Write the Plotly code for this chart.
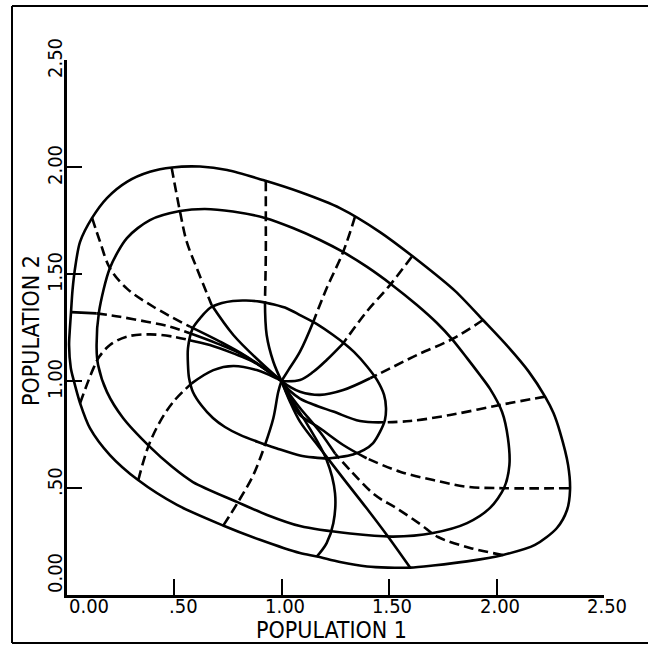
import plotly.graph_objects as go

# ---------------- data (data units) ----------------
tick_values = [0.0, 0.5, 1.0, 1.5, 2.0, 2.5]
tick_labels = ["0.00", ".50", "1.00", "1.50", "2.00", "2.50"]
x_title = "POPULATION 1"
y_title = "POPULATION 2"

# solid closed curves (outer, middle, inner)
outer_x = [0.020, 0.012, 0.016, 0.021, 0.028, 0.042, 0.063, 0.119, 0.188, 0.281, 0.388, 0.491, 0.621,
           0.747, 0.914, 1.086, 1.272, 1.458, 1.644, 1.807, 1.937, 2.049, 2.149, 2.226, 2.265, 2.295,
           2.333, 2.342, 2.328, 2.281, 2.179, 2.030, 1.863, 1.705, 1.598, 1.495, 1.398, 1.272, 1.165,
           1.086, 0.900, 0.728, 0.514, 0.333, 0.202, 0.109, 0.063, 0.033, 0.020]
outer_y = [1.061, 1.168, 1.248, 1.322, 1.425, 1.542, 1.650, 1.762, 1.855, 1.931, 1.978, 1.998, 2.002,
           1.986, 1.939, 1.883, 1.808, 1.696, 1.556, 1.421, 1.285, 1.165, 1.045, 0.927, 0.850, 0.762,
           0.607, 0.491, 0.397, 0.313, 0.234, 0.187, 0.157, 0.138, 0.128, 0.128, 0.133, 0.154, 0.180,
           0.196, 0.258, 0.325, 0.421, 0.537, 0.654, 0.780, 0.897, 1.005, 1.061]

middle_x = [0.140, 0.151, 0.202, 0.281, 0.388, 0.528, 0.644, 0.774, 0.923, 1.053, 1.179, 1.286, 1.398,
            1.514, 1.630, 1.723, 1.793, 1.863, 1.923, 1.970, 2.026, 2.053, 2.060, 2.035, 1.970, 1.863,
            1.705, 1.519, 1.319, 1.086, 0.933, 0.793, 0.588, 0.490, 0.388, 0.263, 0.188, 0.147, 0.140]
middle_y = [1.154, 1.322, 1.528, 1.668, 1.752, 1.794, 1.804, 1.792, 1.762, 1.715, 1.659, 1.603, 1.533,
            1.449, 1.355, 1.271, 1.196, 1.107, 1.028, 0.963, 0.855, 0.734, 0.607, 0.500, 0.407, 0.336,
            0.290, 0.273, 0.287, 0.322, 0.374, 0.435, 0.528, 0.600, 0.692, 0.827, 0.949, 1.075, 1.154]

inner_x = [0.565, 0.588, 0.626, 0.667, 0.723, 0.774, 0.835, 0.900, 0.965, 1.026, 1.086, 1.165, 1.240,
           1.295, 1.337, 1.398, 1.444, 1.477, 1.486, 1.481, 1.458, 1.426, 1.384, 1.333, 1.272, 1.212,
           1.147, 1.086, 0.979, 0.891, 0.807, 0.737, 0.681, 0.630, 0.588, 0.570, 0.565, 0.565]
inner_y = [1.154, 1.248, 1.299, 1.341, 1.364, 1.374, 1.376, 1.371, 1.357, 1.339, 1.308, 1.266, 1.215,
           1.173, 1.136, 1.068, 1.005, 0.935, 0.874, 0.818, 0.762, 0.710, 0.678, 0.657, 0.645, 0.638,
           0.643, 0.652, 0.685, 0.715, 0.748, 0.785, 0.827, 0.883, 0.949, 1.014, 1.075, 1.154]

# trajectories, from the outer curve into the point (1, 1)
t01_x = [0.489, 0.528, 0.559, 0.606, 0.675, 0.776, 0.900, 1.0]
t01_y = [1.997, 1.791, 1.651, 1.527, 1.355, 1.215, 1.090, 1.0]
t02_x = [0.927, 0.927, 0.927, 0.923, 0.931, 0.962, 1.0]
t02_y = [1.934, 1.760, 1.589, 1.371, 1.215, 1.090, 1.0]
t03_x = [1.342, 1.287, 1.210, 1.148, 1.086, 1.032, 1.0]
t03_y = [1.768, 1.604, 1.433, 1.277, 1.137, 1.051, 1.0]
t04_x = [1.606, 1.505, 1.396, 1.287, 1.210, 1.148, 1.086, 1.0]
t04_y = [1.581, 1.449, 1.324, 1.176, 1.098, 1.043, 1.005, 1.0]
t05_x = [1.937, 1.792, 1.629, 1.505, 1.412, 1.287, 1.179, 1.086, 1.040, 1.0]
t05_y = [1.285, 1.195, 1.121, 1.059, 1.013, 0.958, 0.935, 0.950, 0.972, 1.0]
t06_x = [2.226, 2.016, 1.784, 1.598, 1.473, 1.365, 1.241, 1.148, 1.086, 1.040, 1.0]
t06_y = [0.927, 0.888, 0.841, 0.813, 0.807, 0.813, 0.857, 0.890, 0.918, 0.953, 1.0]
t07_x = [2.339, 2.032, 1.861, 1.706, 1.551, 1.396, 1.287, 1.179, 1.086, 1.040, 1.0]
t07_y = [0.499, 0.499, 0.506, 0.537, 0.576, 0.639, 0.701, 0.779, 0.841, 0.911, 1.0]
t08_x = [2.030, 1.877, 1.728, 1.644, 1.536, 1.435, 1.323, 1.250, 1.179, 1.086, 1.040, 1.0]
t08_y = [0.187, 0.220, 0.271, 0.332, 0.405, 0.467, 0.579, 0.660, 0.762, 0.874, 0.935, 1.0]
t09_x = [1.598, 1.490, 1.396, 1.287, 1.179, 1.086, 1.040, 1.0]
t09_y = [0.128, 0.280, 0.405, 0.545, 0.686, 0.810, 0.902, 1.0]
t10_x = [1.164, 1.210, 1.241, 1.249, 1.210, 1.117, 1.049, 1.0]
t10_y = [0.179, 0.242, 0.335, 0.475, 0.631, 0.802, 0.909, 1.0]
t11_x = [0.729, 0.799, 0.869, 0.923, 0.962, 0.985, 1.0]
t11_y = [0.324, 0.436, 0.561, 0.701, 0.826, 0.950, 1.0]
t12_x = [0.334, 0.380, 0.435, 0.497, 0.582, 0.683, 0.776, 0.885, 0.978, 1.0]
t12_y = [0.537, 0.693, 0.810, 0.903, 0.989, 1.051, 1.070, 1.051, 1.012, 1.0]
t13_x = [0.063, 0.125, 0.153, 0.202, 0.280, 0.388, 0.497, 0.567, 0.667, 0.776, 0.869, 1.0]
t13_y = [0.896, 1.059, 1.114, 1.168, 1.207, 1.218, 1.207, 1.192, 1.168, 1.129, 1.090, 1.0]
t14_x = [0.021, 0.140, 0.249, 0.373, 0.481, 0.574, 0.699, 0.822, 1.0]
t14_y = [1.322, 1.316, 1.300, 1.277, 1.254, 1.223, 1.176, 1.121, 1.0]
t15_x = [0.119, 0.156, 0.202, 0.280, 0.404, 0.574, 0.714, 0.838, 1.0]
t15_y = [1.762, 1.651, 1.527, 1.433, 1.347, 1.254, 1.184, 1.114, 1.0]

# ---------------- styling ----------------
# for each trajectory: list of (start_index, end_index, dashed?) segments
segments = {
    "01": [(0, 4, True), (4, 7, False)],
    "02": [(0, 3, True), (3, 6, False)],
    "03": [(0, 3, True), (3, 6, False)],
    "04": [(0, 3, True), (3, 7, False)],
    "05": [(0, 4, True), (4, 9, False)],
    "06": [(0, 4, True), (4, 10, False)],
    "07": [(0, 5, True), (5, 10, False)],
    "08": [(0, 7, True), (7, 11, False)],
    "09": [(0, 7, False)],
    "10": [(0, 7, False)],
    "11": [(0, 3, True), (3, 6, False)],
    "12": [(0, 4, True), (4, 9, False)],
    "13": [(0, 7, True), (7, 11, False)],
    "14": [(0, 1, False), (1, 5, True), (5, 8, False)],
    "15": [(0, 5, True), (5, 8, False)],
}
trajectories = {
    "01": (t01_x, t01_y), "02": (t02_x, t02_y), "03": (t03_x, t03_y), "04": (t04_x, t04_y),
    "05": (t05_x, t05_y), "06": (t06_x, t06_y), "07": (t07_x, t07_y), "08": (t08_x, t08_y),
    "09": (t09_x, t09_y), "10": (t10_x, t10_y), "11": (t11_x, t11_y), "12": (t12_x, t12_y),
    "13": (t13_x, t13_y), "14": (t14_x, t14_y), "15": (t15_x, t15_y),
}

W = 648
LW = 2.6
DASH = "10px,5px"
FONT = "DejaVu Sans Condensed, DejaVu Sans, sans-serif"

fig = go.Figure()

for cx, cy in [(outer_x, outer_y), (middle_x, middle_y), (inner_x, inner_y)]:
    fig.add_trace(go.Scatter(x=cx, y=cy, mode="lines", cliponaxis=False,
                             line=dict(color="black", width=LW, shape="spline", smoothing=0.8),
                             hoverinfo="skip", showlegend=False))

for key, (tx, ty) in trajectories.items():
    for a, b, dashed in segments[key]:
        fig.add_trace(go.Scatter(
            x=tx[a:b + 1], y=ty[a:b + 1], mode="lines", cliponaxis=False,
            line=dict(color="black", width=LW, shape="spline", smoothing=1.0,
                      dash=DASH if dashed else "solid"),
            hoverinfo="skip", showlegend=False))

# axis placement in pixels
x0_px, x1_px = 66.5, 604.0
y0_px, y1_px = 595.0, 60.0

axis_common = dict(range=[0, 2.5], tickvals=tick_values, showticklabels=False,
                   ticks="inside", ticklen=16, tickwidth=2.2, tickcolor="black",
                   showline=True, linecolor="black", linewidth=2.6,
                   showgrid=False, zeroline=False, mirror=False, fixedrange=True)
fig.update_xaxes(domain=[x0_px / W, x1_px / W], **axis_common)
fig.update_yaxes(domain=[1 - y0_px / W, 1 - y1_px / W], **axis_common)

ann = []
for v, lab in zip(tick_values, tick_labels):
    xs = 3
    if v == 0.0:
        xs = 22
    elif lab.startswith("."):
        xs = 9
    ann.append(dict(x=v, y=1 - 606 / W, xref="x", yref="paper", text=lab, showarrow=False,
                    xshift=xs, font=dict(family=FONT, size=20, color="black"),
                    xanchor="center", yanchor="middle"))
for v, lab in zip(tick_values, tick_labels):
    ys = 2
    if v == 0.0:
        ys = 22
    elif lab.startswith("."):
        ys = 6
    ann.append(dict(x=55 / W, y=v, xref="paper", yref="y", text=lab, showarrow=False,
                    yshift=ys, textangle=-90, font=dict(family=FONT, size=20, color="black"),
                    xanchor="center", yanchor="middle"))
ann.append(dict(x=331 / W, y=1 - 630 / W, xref="paper", yref="paper", text=x_title,
                showarrow=False, font=dict(family=FONT, size=23, color="black"),
                xanchor="center", yanchor="middle"))
ann.append(dict(x=31 / W, y=1 - 331 / W, xref="paper", yref="paper", text=y_title,
                showarrow=False, textangle=-90, font=dict(family=FONT, size=23, color="black"),
                xanchor="center", yanchor="middle"))

# outer frame of the scanned figure
shapes = [
    dict(type="line", xref="paper", yref="paper", x0=12 / W, x1=12 / W, y0=1 - 6 / W, y1=1 - 643 / W,
         line=dict(color="black", width=2)),
    dict(type="line", xref="paper", yref="paper", x0=12 / W, x1=1.0, y0=1 - 6 / W, y1=1 - 6 / W,
         line=dict(color="black", width=2)),
    dict(type="line", xref="paper", yref="paper", x0=12 / W, x1=1.0, y0=1 - 643 / W, y1=1 - 643 / W,
         line=dict(color="black", width=2)),
]

fig.update_layout(width=W, height=W, margin=dict(l=0, r=0, t=0, b=0, pad=0),
                  paper_bgcolor="white", plot_bgcolor="white",
                  annotations=ann, shapes=shapes, showlegend=False)

fig.write_html("out.html")
